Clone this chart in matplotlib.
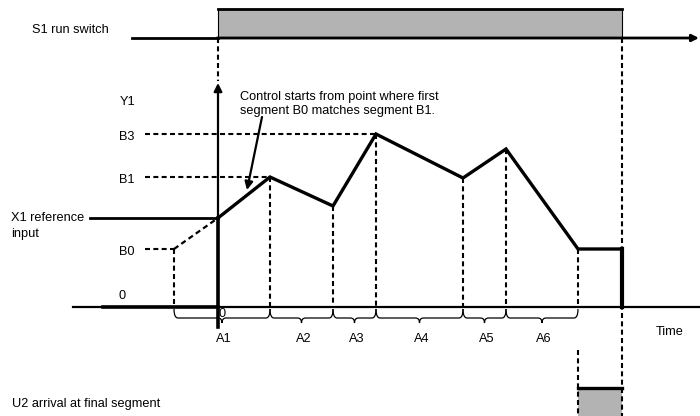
import matplotlib
matplotlib.use("Agg")
import matplotlib.pyplot as plt
from matplotlib.path import Path
from matplotlib.patches import PathPatch, Rectangle

plt.rcParams["font.family"] = ["Liberation Sans", "DejaVu Sans"]

# time points of the segment boundaries (origin = run switch on)
seg_t = [0, 52, 115, 158, 245, 288, 360, 404]
seg_v = [89, 130, 101, 173, 129, 158, 58, 58]
b0_t = -44
b0_v = 58
x1_v = 89
b1_v = 130
b3_v = 173
a_bounds = [-44, 52, 115, 158, 245, 288, 360]
a_labels = ["A1", "A2", "A3", "A4", "A5", "A6"]
s1_low, s1_high = 269, 298
u2_low, u2_high = -109, -81
t_end = 404

FS = 9.2
DASH = (0, (2.4, 1.6))

fig = plt.figure(figsize=(7.0, 4.16), dpi=100)
ax = fig.add_axes([0, 0, 1, 1])
ax.set_xlim(-218, 482)
ax.set_ylim(-109, 307)
ax.axis("off")

# S1 run switch signal
ax.add_patch(Rectangle((0, s1_low), t_end, s1_high - s1_low,
                       facecolor="#b3b3b3", edgecolor="black", lw=0.8))
ax.plot([0, t_end], [s1_high, s1_high], color="black", lw=2)
ax.plot([-86, 0], [s1_low, s1_low], color="black", lw=2)
ax.annotate("", xy=(481, s1_low), xytext=(-1, s1_low),
            arrowprops=dict(arrowstyle="-|>", color="black", lw=2,
                            mutation_scale=10, shrinkA=0, shrinkB=0))
ax.text(-186, 277, "S1 run switch", fontsize=FS, ha="left", va="center")

# dashed links from switch edges
ax.plot([0, 0], [s1_low, 226], color="black", lw=1.5, ls=DASH)
ax.plot([t_end, t_end], [s1_low, u2_low], color="black", lw=1.5, ls=DASH)

# Y axis and time axis
ax.annotate("", xy=(0, 224), xytext=(0, x1_v),
            arrowprops=dict(arrowstyle="-|>", color="black", lw=1.6,
                            mutation_scale=12, shrinkA=0, shrinkB=0))
ax.plot([0, 0], [x1_v, -20], color="black", lw=2.6)
ax.plot([-145, 482], [0, 0], color="black", lw=1.6)
ax.plot([-115, 0], [0, 0], color="black", lw=2.6)
ax.text(-90, 205, "Y1", fontsize=FS, ha="center", va="center")
ax.text(-96, 11, "0", fontsize=FS, ha="center", va="center")
ax.text(4, -7, "0", fontsize=FS, ha="center", va="center")
ax.text(452, -25, "Time", fontsize=FS, ha="center", va="center")

# level guides
for lab, v, tt in [("B3", b3_v, seg_t[3]), ("B1", b1_v, seg_t[1]), ("B0", b0_v, b0_t)]:
    ax.plot([-73, tt], [v, v], color="black", lw=1.5, ls=DASH)
    ax.text(-91, v - 3, lab, fontsize=FS, ha="center", va="center")

# X1 reference input
ax.plot([-128, 0], [x1_v, x1_v], color="black", lw=2)
ax.text(-207, x1_v - 8, "X1 reference\ninput", fontsize=FS, ha="left",
        va="center", linespacing=1.4)

# B0 segment (before start) and the controlled profile
ax.plot([b0_t, 0], [b0_v, x1_v], color="black", lw=1.6, ls=DASH)
ax.plot(seg_t, seg_v, color="black", lw=2.4, solid_joinstyle="miter")
ax.plot([seg_t[-1], seg_t[-1]], [seg_v[-1], 0], color="black", lw=3)

# verticals down to the time axis
ax.plot([b0_t, b0_t], [b0_v, 0], color="black", lw=1.5, ls=DASH)
for tt, v in zip(seg_t[1:-1], seg_v[1:-1]):
    ax.plot([tt, tt], [v, 0], color="black", lw=1.5, ls=DASH)

# braces for segments A1..A6
def brace(x1, x2, y0=-2, d=9, tip=5, r=4):
    xm = (x1 + x2) / 2
    verts = [(x1, y0), (x1, y0 - d), (x1 + r, y0 - d),
             (xm - r, y0 - d), (xm, y0 - d), (xm, y0 - d - tip),
             (xm, y0 - d), (xm + r, y0 - d),
             (x2 - r, y0 - d), (x2, y0 - d), (x2, y0)]
    codes = [Path.MOVETO, Path.CURVE3, Path.CURVE3,
             Path.LINETO, Path.CURVE3, Path.CURVE3,
             Path.CURVE3, Path.CURVE3,
             Path.LINETO, Path.CURVE3, Path.CURVE3]
    ax.add_patch(PathPatch(Path(verts, codes), fill=False, lw=0.9,
                           edgecolor="black"))
    return xm

for a, b, lab in zip(a_bounds[:-1], a_bounds[1:], a_labels):
    xm = brace(a, b)
    ax.text(xm + 2, -32, lab, fontsize=FS, ha="center", va="center")

# annotation
ax.text(22, 203, "Control starts from point where first\nsegment B0 matches segment B1.",
        fontsize=FS, ha="left", va="center", linespacing=1.15)
ax.annotate("", xy=(29, 117), xytext=(44, 190),
            arrowprops=dict(arrowstyle="-|>", color="black", lw=1.6,
                            mutation_scale=12, shrinkA=0, shrinkB=0))

# U2 arrival at final segment
ax.plot([seg_t[-2], seg_t[-2]], [-43, u2_low], color="black", lw=1.5, ls=DASH)
ax.add_patch(Rectangle((seg_t[-2], u2_low), t_end - seg_t[-2], u2_high - u2_low,
                       facecolor="#b3b3b3", edgecolor="none"))
ax.plot([seg_t[-2], t_end], [u2_high, u2_high], color="black", lw=2.4)
ax.text(-206, -97, "U2 arrival at final segment", fontsize=FS, ha="left", va="center")

fig.savefig("out.png", dpi=100)
